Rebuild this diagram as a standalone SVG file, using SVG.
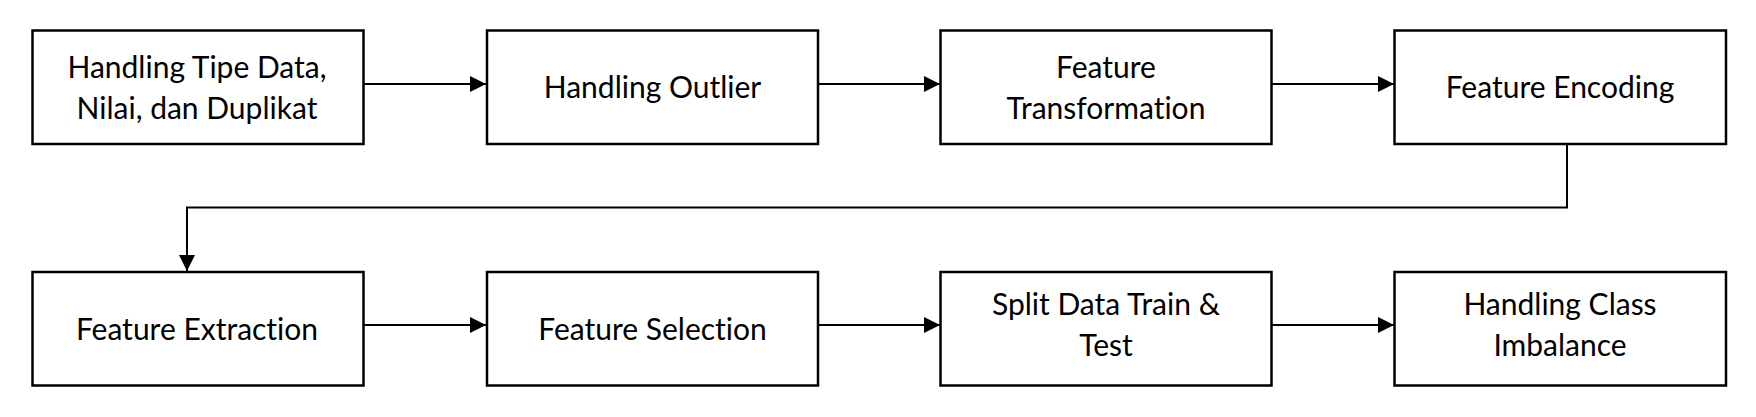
<svg xmlns="http://www.w3.org/2000/svg" width="1756" height="417" viewBox="0 0 1756 417">
<style>
.box{fill:#fff;stroke:#000;stroke-width:2.5}
.lbl{font-family:Lato,"Open Sans","Liberation Sans",sans-serif;font-size:30px;fill:#000;text-anchor:middle;font-variant-ligatures:none}
.con{fill:none;stroke:#000;stroke-width:2}
</style>
<defs>
<marker id="ah" viewBox="0 0 16 16" refX="16" refY="8" markerWidth="16" markerHeight="16" markerUnits="userSpaceOnUse" orient="auto">
<path d="M0,0 L16,8 L0,16 Z" fill="#000"/>
</marker>
</defs>
<rect width="1756" height="417" fill="#fff"/>
<g id="connectors">
<line class="con" x1="363" y1="84" x2="486" y2="84" marker-end="url(#ah)"/>
<line class="con" x1="818" y1="84" x2="940" y2="84" marker-end="url(#ah)"/>
<line class="con" x1="1272" y1="84" x2="1394" y2="84" marker-end="url(#ah)"/>
<polyline class="con" points="1567,144 1567,207.5 187,207.5 187,271" marker-end="url(#ah)"/>
<line class="con" x1="363" y1="325" x2="486" y2="325" marker-end="url(#ah)"/>
<line class="con" x1="818" y1="325" x2="940" y2="325" marker-end="url(#ah)"/>
<line class="con" x1="1272" y1="325" x2="1394" y2="325" marker-end="url(#ah)"/>
</g>
<g id="n1"><rect class="box" x="32.5" y="30.5" width="331" height="113.5"/><text class="lbl" x="197" y="77.5">Handling Tipe Data,</text><text class="lbl" x="197" y="118.5">Nilai, dan Duplikat</text></g>
<g id="n2"><rect class="box" x="487" y="30.5" width="331" height="113.5"/><text class="lbl" x="652.5" y="98">Handling Outlier</text></g>
<g id="n3"><rect class="box" x="940.5" y="30.5" width="331" height="113.5"/><text class="lbl" x="1106" y="77.5">Feature</text><text class="lbl" x="1106" y="118.5">Transformation</text></g>
<g id="n4"><rect class="box" x="1394.5" y="30.5" width="331.5" height="113.5"/><text class="lbl" x="1560" y="98">Feature Encoding</text></g>
<g id="n5"><rect class="box" x="32.5" y="272" width="331" height="113.5"/><text class="lbl" x="197" y="340">Feature Extraction</text></g>
<g id="n6"><rect class="box" x="487" y="272" width="331" height="113.5"/><text class="lbl" x="652.5" y="340">Feature Selection</text></g>
<g id="n7"><rect class="box" x="940.5" y="272" width="331" height="113.5"/><text class="lbl" x="1106" y="315">Split Data Train &amp;</text><text class="lbl" x="1106" y="355.5">Test</text></g>
<g id="n8"><rect class="box" x="1394.5" y="272" width="331.5" height="113.5"/><text class="lbl" x="1560" y="315">Handling Class</text><text class="lbl" x="1560" y="355.5">Imbalance</text></g>
</svg>
